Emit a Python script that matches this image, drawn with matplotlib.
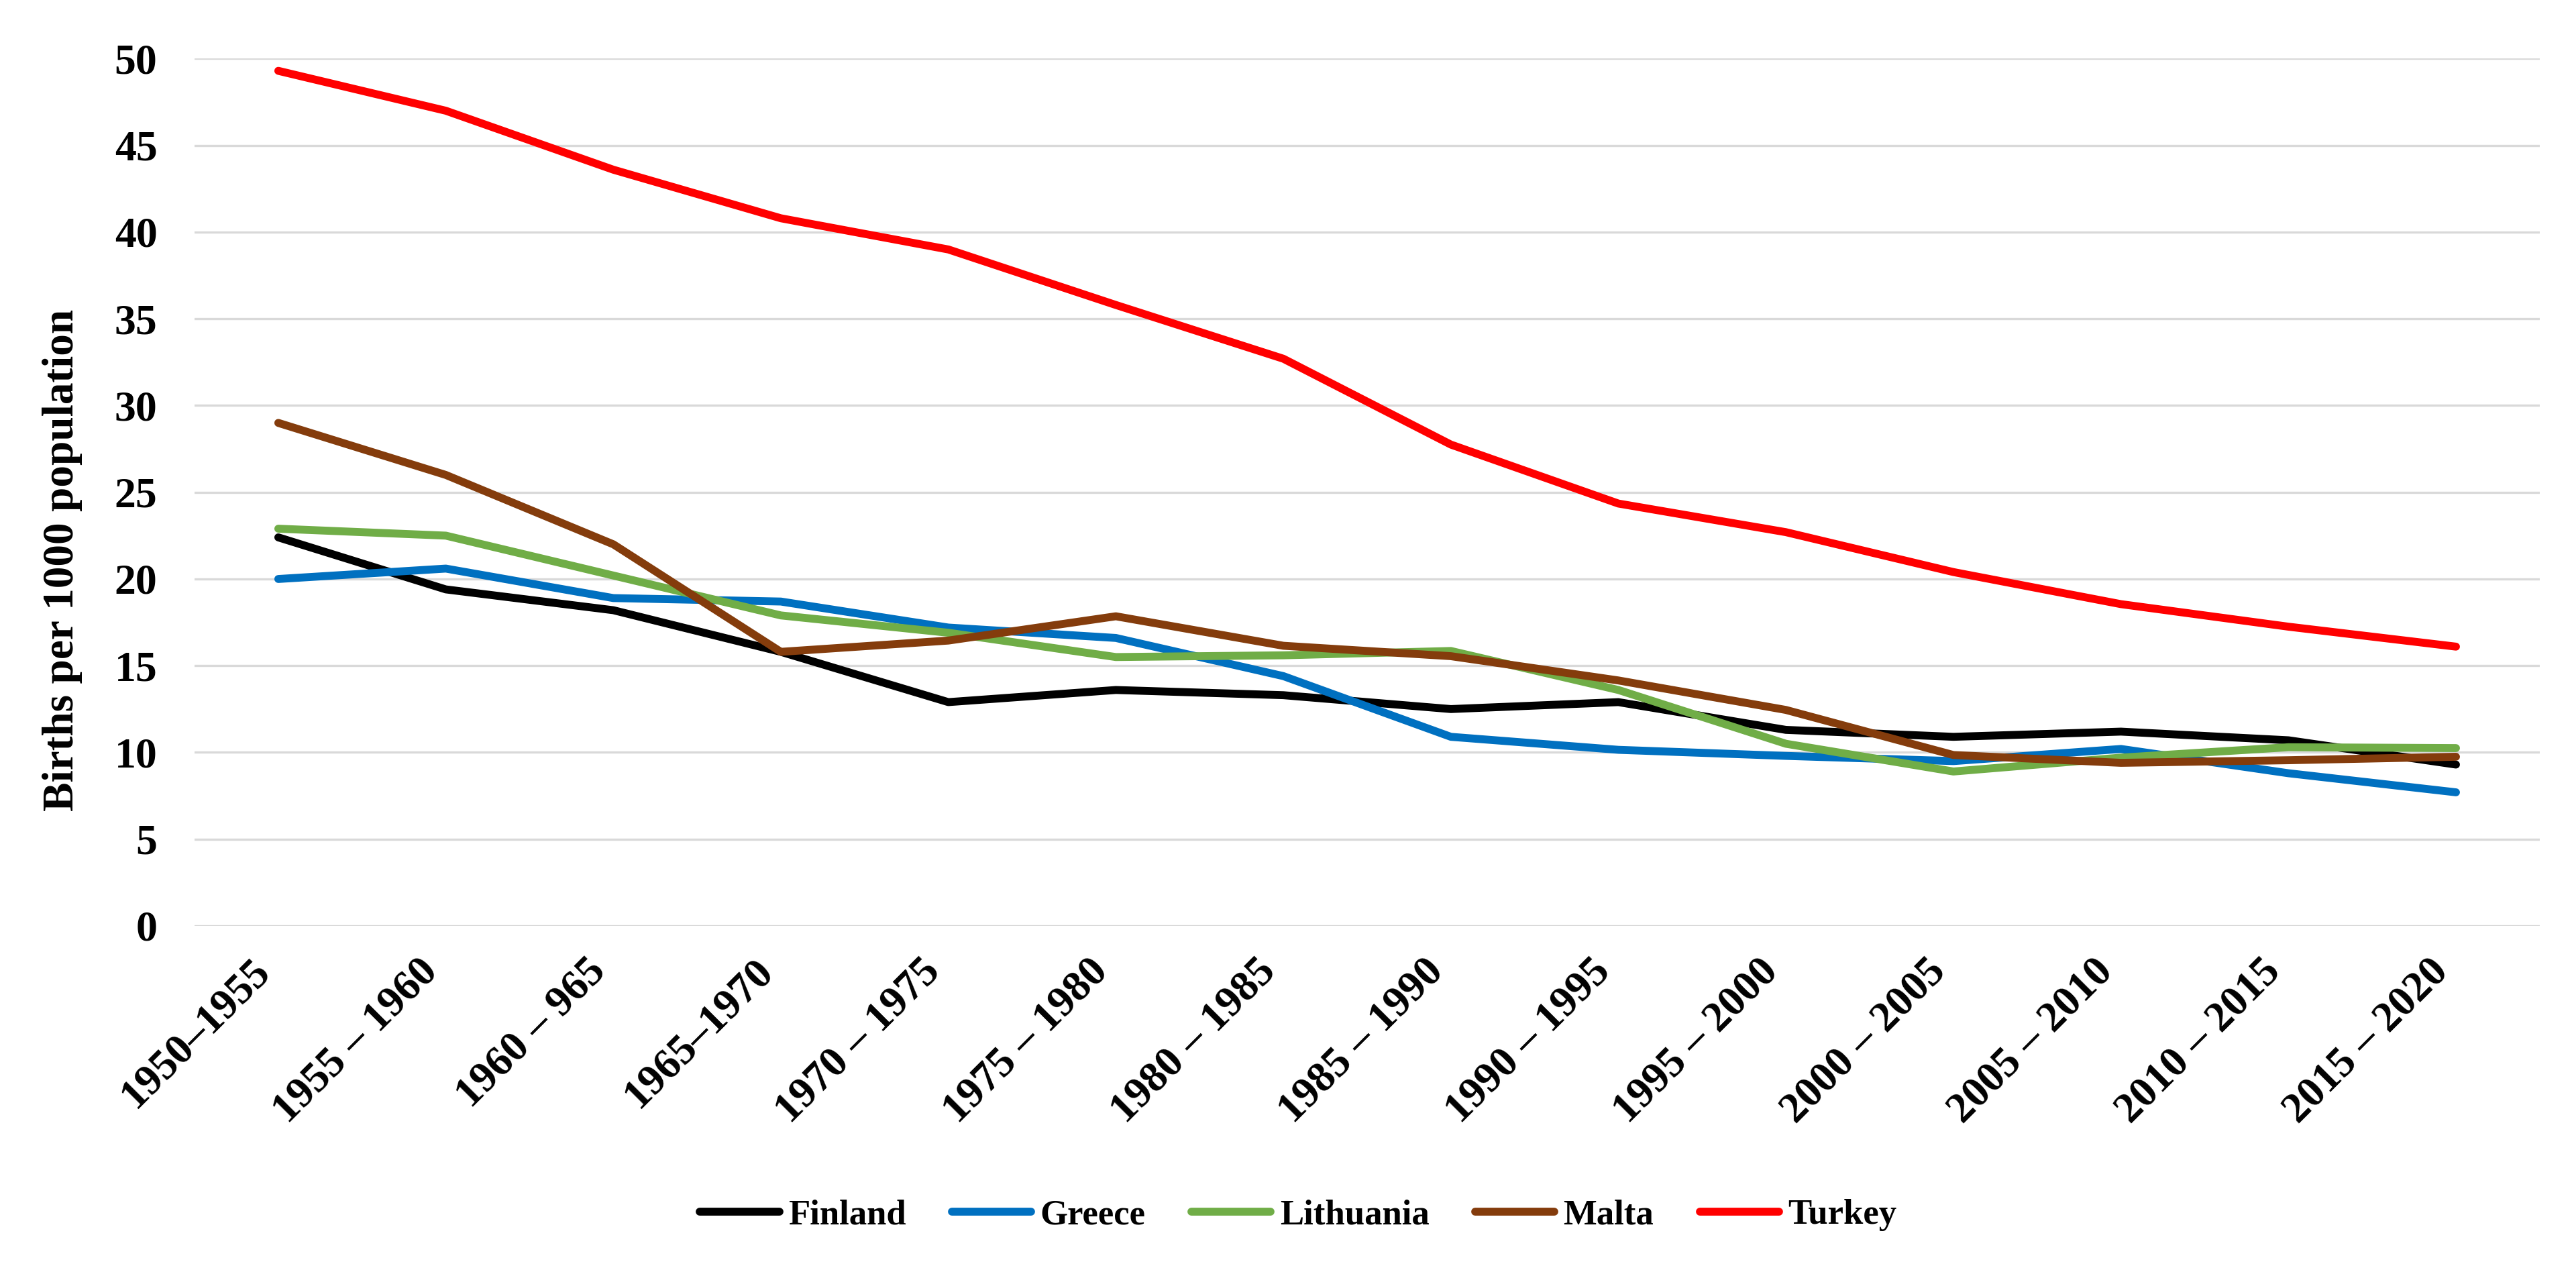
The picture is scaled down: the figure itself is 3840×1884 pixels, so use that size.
import matplotlib
matplotlib.use("Agg")
import matplotlib.pyplot as plt
import matplotlib.transforms as mtransforms

periods = ["1950–1955", "1955 – 1960", "1960 – 965", "1965–1970", "1970 – 1975",
           "1975 – 1980", "1980 – 1985", "1985 – 1990", "1990 – 1995", "1995 – 2000",
           "2000 – 2005", "2005 – 2010", "2010 – 2015", "2015 – 2020"]

finland = [22.4, 19.4, 18.2, 15.8, 12.9, 13.6, 13.3, 12.5, 12.9, 11.3, 10.9, 11.2, 10.7, 9.3]
greece = [20.0, 20.6, 18.9, 18.7, 17.2, 16.6, 14.4, 10.9, 10.15, 9.8, 9.5, 10.2, 8.8, 7.7]
lithuania = [22.9, 22.5, 20.2, 17.9, 16.9, 15.5, 15.6, 15.85, 13.6, 10.5, 8.9, 9.7, 10.3, 10.25]
malta = [29.0, 26.0, 22.0, 15.8, 16.45, 17.85, 16.15, 15.55, 14.15, 12.45, 9.85, 9.4, 9.55, 9.75]
turkey = [49.3, 47.0, 43.6, 40.8, 39.0, 35.8, 32.7, 27.75, 24.35, 22.7, 20.4, 18.55, 17.25, 16.1]

series_names = ["Finland", "Greece", "Lithuania", "Malta", "Turkey"]
series_values = [finland, greece, lithuania, malta, turkey]
series_colors = ["#000000", "#0070C0", "#70AD47", "#843C0C", "#FF0000"]

yticks = [0, 5, 10, 15, 20, 25, 30, 35, 40, 45, 50]

plt.rcParams['font.family'] = ['Liberation Serif', 'DejaVu Serif']
plt.rcParams['font.weight'] = 'bold'

fig = plt.figure(figsize=(38.4, 18.84), dpi=100)
ax = fig.add_axes([0.07552, 0.26752, 0.9104, 0.68604])

x = list(range(len(periods)))
for name, vals, col in zip(series_names, series_values, series_colors):
    ax.plot(x, vals, color=col, lw=8.5, label=name,
            solid_joinstyle='round', solid_capstyle='round')

ax.set_xlim(-0.5, len(periods) - 0.5)
ax.set_ylim(0, 50)
ax.set_yticks(yticks)
ax.set_yticklabels([str(v) for v in yticks], fontsize=46, fontweight='bold')
ax.set_xticks(x)
ax.set_xticklabels(periods, fontsize=46, fontweight='bold', rotation=45, ha='right')

offset = mtransforms.ScaledTranslation(0.24, 0, fig.dpi_scale_trans)
for lbl in ax.get_xticklabels():
    lbl.set_transform(lbl.get_transform() + offset)

ax.tick_params(axis='both', length=0)
ax.tick_params(axis='x', pad=28)
ax.tick_params(axis='y', pad=40)
ax.grid(axis='y', color='#D9D9D9', lw=2.4)
ax.set_axisbelow(True)
for sp in ax.spines.values():
    sp.set_visible(False)

fig.text(0.0242, 0.5568, "Births per 1000 population", rotation=90,
         ha='center', va='center', fontsize=47, fontweight='bold')

leg = fig.legend(loc='center', bbox_to_anchor=(0.504, 0.0387), ncol=5, frameon=False,
                 handlelength=2.24, handletextpad=0.25, columnspacing=1.3,
                 prop={'weight': 'bold', 'size': 38})

fig.savefig("out.png", dpi=100, facecolor='white')
